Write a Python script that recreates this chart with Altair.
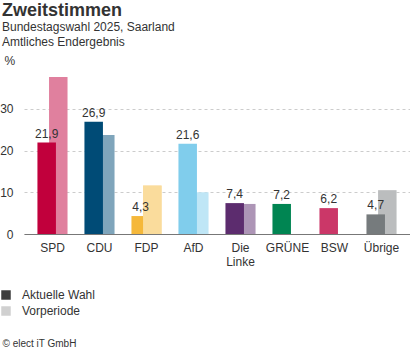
import altair as alt
import pandas as pd

parties = ["SPD", "CDU", "FDP", "AfD", "Die Linke", "GRÜNE", "BSW", "Übrige"]
current = [21.9, 26.9, 4.3, 21.6, 7.4, 7.2, 6.2, 4.7]
previous = [37.6, 23.7, 11.6, 10.0, 7.2, None, None, 10.5]
value_labels = ["21,9", "26,9", "4,3", "21,6", "7,4", "7,2", "6,2", "4,7"]
colors_current = ["#c1003c", "#004b76", "#f5b83a", "#80cdec", "#5c2c6e", "#008552", "#cb3768", "#767b7d"]
colors_previous = ["#e0809e", "#7fa5bb", "#fadc9c", "#bfe6f6", "#ad95b6", "#7fc2a8", "#e59bb3", "#bbbdbe"]
series = ["Aktuelle Wahl", "Vorperiode"]
legend_colors = ["#3c3c3c", "#d0d0d0"]
prev_on_top = ["FDP"]

rows = []
for p, v, lab, c in zip(parties, current, value_labels, colors_current):
    rows.append({"party": p, "series": series[0], "value": v, "label": lab, "fill": c,
                 "top": False})
for p, v, c in zip(parties, previous, colors_previous):
    if v is not None:
        rows.append({"party": p, "series": series[1], "value": v, "label": "", "fill": c,
                     "top": p in prev_on_top})
df = pd.DataFrame(rows)

TXT = "#333333"
FONT = "Liberation Sans"

x_enc = alt.X(
    "party:N",
    sort=parties,
    scale=alt.Scale(paddingInner=0, paddingOuter=0.106),
    axis=alt.Axis(
        title="© elect iT GmbH",
        titleFontSize=10,
        titleFontWeight="normal",
        titleColor=TXT,
        titleX=-22,
        titleY=112,
        titleAlign="left",
        titleBaseline="alphabetic",
        labelAngle=0,
        labelFontSize=12,
        labelColor=TXT,
        labelPadding=8,
        labelLineHeight=14,
        labelExpr="datum.value == 'Die Linke' ? ['Die', 'Linke'] : datum.value",
        ticks=False,
        domainColor="#777777",
        domainWidth=1.2,
        grid=False,
    ),
)
y_enc = alt.Y(
    "value:Q",
    scale=alt.Scale(domain=[0, 40]),
    axis=alt.Axis(
        values=[0, 10, 20, 30],
        title="%",
        titleAngle=0,
        titleX=-20,
        titleY=-7,
        titleAlign="left",
        titleBaseline="middle",
        titleFontSize=12,
        titleFontWeight="normal",
        titleColor=TXT,
        labelFontSize=12,
        labelColor=TXT,
        labelPadding=11,
        ticks=False,
        domain=False,
        grid=True,
        gridColor="#cccccc",
        gridDash=[3, 3],
    ),
)

base = alt.Chart(df)

prev_bars = base.mark_bar(width=18.5, xOffset=5.8).encode(
    x=x_enc, y=y_enc, fill=alt.Fill("fill:N", scale=None)
).transform_filter(alt.datum.series == series[1])

cur_bars = base.mark_bar(width=18.5, xOffset=-5.8).encode(
    x=x_enc, y=y_enc, fill=alt.Fill("fill:N", scale=None)
).transform_filter(alt.datum.series == series[0])

prev_top = base.mark_bar(width=18.5, xOffset=5.8).encode(
    x=x_enc, y=y_enc, fill=alt.Fill("fill:N", scale=None)
).transform_filter("datum.series == 'Vorperiode' && datum.top")

labels_layer = base.mark_text(xOffset=-5.8, dy=-5, baseline="alphabetic", fontSize=12, color=TXT).encode(
    x=x_enc, y=y_enc, text="label:N"
).transform_filter(alt.datum.series == series[0])

legend_layer = base.mark_square(opacity=0, size=1).encode(
    x=x_enc,
    y=y_enc,
    color=alt.Color(
        "series:N",
        scale=alt.Scale(domain=series, range=legend_colors),
        legend=alt.Legend(
            orient="none",
            legendX=-24,
            legendY=222,
            title=None,
            symbolType="square",
            symbolSize=90,
            symbolOpacity=1,
            symbolStrokeWidth=0,
            labelFontSize=12,
            labelColor=TXT,
            labelOffset=10,
            rowPadding=4,
            padding=0,
        ),
    ),
)

chart = alt.layer(prev_bars, cur_bars, prev_top, labels_layer, legend_layer).properties(
    width=386,
    height=167,
    padding={"left": 24, "top": 67, "right": 0, "bottom": 118},
    autosize=alt.AutoSizeParams(type="none"),
    title=alt.TitleParams(
        text="Zweitstimmen",
        subtitle=["Bundestagswahl 2025, Saarland", "Amtliches Endergebnis"],
        anchor="start",
        frame="group",
        dx=-22,
        fontSize=18,
        fontWeight="bold",
        color=TXT,
        subtitleFontSize=12,
        subtitleColor=TXT,
        subtitleLineHeight=15,
        subtitlePadding=2,
        offset=6,
    ),
).configure(font=FONT).configure_view(stroke=None)

chart.save("out.html", embed_options={"renderer": "svg", "actions": False})
